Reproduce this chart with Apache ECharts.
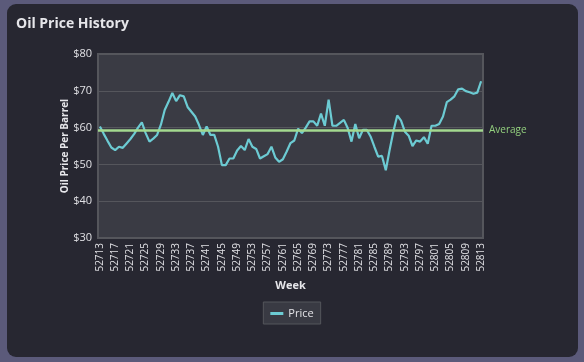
<!DOCTYPE html>
<html>
<head>
<meta charset="utf-8">
<script src="https://cdn.jsdelivr.net/npm/echarts@6/dist/echarts.min.js"></script>
<style>
html,body{margin:0;padding:0;background:#5b5a7a;width:584px;height:362px;overflow:hidden;}
#card{position:absolute;left:7px;top:4px;width:571px;height:353px;background:#272731;border-radius:9px;}
#chart{position:absolute;left:0;top:0;width:584px;height:362px;}
</style>
</head>
<body>
<div id="card"></div>
<div id="chart"></div>
<script>
const weeks = [];
for (let w = 52713; w <= 52813; w++) weeks.push(String(w));
const prices = [
60.3,58.3,56.4,54.6,53.9,54.8,54.5,55.7,56.9,58.3,
60.0,61.4,58.5,56.2,57.0,58.0,60.8,64.8,67.0,69.4,
67.2,68.8,68.5,65.6,64.3,63.0,60.7,58.0,60.3,58.0,
58.0,54.8,49.8,49.8,51.6,51.6,53.8,55.0,53.9,56.9,
54.8,54.2,51.6,52.2,52.8,54.8,51.9,50.7,51.4,53.5,
55.8,56.5,59.7,58.5,60.0,61.7,61.7,60.5,63.8,60.5,
67.6,60.5,60.5,61.3,62.1,59.9,56.2,61.0,57.1,59.4,
59.4,57.6,54.8,52.1,52.3,48.4,53.9,59.0,63.3,61.9,
58.9,57.8,55.0,56.5,56.2,57.4,55.6,60.5,60.5,61.0,
63.0,66.9,67.6,68.5,70.4,70.6,69.9,69.6,69.2,69.5,
72.6
];
const averagePrice = 59.3;
const yTicks = [30, 40, 50, 60, 70, 80];

const chart = echarts.init(document.getElementById('chart'), null, {renderer: 'canvas'});
const font = "'Open Sans', sans-serif";
chart.setOption({
  backgroundColor: 'transparent',
  animation: false,
  textStyle: {fontFamily: font},
  title: {
    text: 'Oil Price History',
    left: 11, top: 12,
    textStyle: {color: '#e6e6ea', fontSize: 14, fontWeight: 'bold', fontFamily: font}
  },
  grid: {
    left: 98, right: 101, top: 54, bottom: 124,
    show: true, backgroundColor: '#3a3b44', borderColor: '#55565c', borderWidth: 2
  },
  legend: {
    bottom: 38, left: 'center',
    data: ['Price'],
    backgroundColor: '#393a43', borderColor: '#55565c', borderWidth: 1, borderRadius: 0,
    padding: [6, 7, 5, 7],
    itemWidth: 13, itemHeight: 3,
    itemGap: 6,
    icon: 'rect',
    textStyle: {color: '#e2e2e6', fontSize: 11, fontFamily: font}
  },
  xAxis: {
    type: 'category',
    data: weeks,
    boundaryGap: true,
    name: 'Week',
    nameLocation: 'middle',
    nameGap: 42,
    nameMoveOverlap: false,
    nameTextStyle: {color: '#e6e6ea', fontWeight: 'bold', fontSize: 11},
    axisLine: {show: false},
    axisTick: {show: false},
    axisLabel: {rotate: 90, interval: 3, color: '#e0e0e4', fontSize: 10, margin: 5}
  },
  yAxis: {
    type: 'value',
    min: yTicks[0], max: yTicks[yTicks.length - 1], interval: 10,
    name: 'Oil Price Per Barrel',
    nameLocation: 'middle',
    nameGap: 28,
    nameMoveOverlap: false,
    nameTextStyle: {color: '#e6e6ea', fontWeight: 'bold', fontSize: 10},
    axisLine: {show: false},
    axisTick: {show: false},
    axisLabel: {formatter: '${value}', color: '#e0e0e4', fontSize: 11, margin: 6},
    splitLine: {lineStyle: {color: '#55565c', width: 1}}
  },
  series: [{
    name: 'Price',
    type: 'line',
    data: prices,
    symbol: 'none',
    lineStyle: {color: '#6ccbd3', width: 2.2},
    itemStyle: {color: '#6ccbd3'},
    markLine: {
      silent: true,
      symbol: 'none',
      data: [{yAxis: averagePrice}],
      lineStyle: {color: '#a3d98f', width: 2.5, type: 'solid'},
      label: {show: true, position: 'end', formatter: 'Average', color: '#93d07e', fontSize: 10, distance: 6}
    }
  }]
});
</script>
</body>
</html>
